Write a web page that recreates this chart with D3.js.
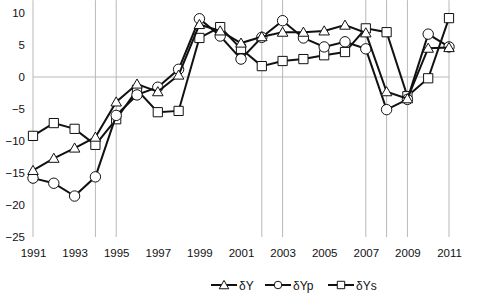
<!DOCTYPE html>
<meta charset="utf-8">
<head>
<script src="https://d3js.org/d3.v7.min.js"></script>
<style>
  body { margin: 0; background: #fff; }
  text { font-family: "Liberation Sans", Arial, sans-serif; }
</style>
</head>
<body>
<div id="chart"></div>
<script>

// data
var years = [1991,1992,1993,1994,1995,1996,1997,1998,1999,2000,2001,2002,2003,2004,2005,2006,2007,2008,2009,2010,2011];
var dY  = [-14.6,-12.7,-11.1,-9.4,-3.9,-1.1,-2.3,0.3,8.2,7.2,5.3,6.3,7.0,7.0,7.2,8.1,6.9,-2.3,-3.4,4.5,4.6];
var dYp = [-15.8,-16.6,-18.6,-15.6,-6.0,-2.8,-1.6,1.2,9.1,6.4,2.8,6.2,8.8,6.1,4.7,5.5,4.4,-5.1,-3.5,6.7,4.7];
var dYs = [-9.2,-7.2,-8.1,-10.6,-6.6,-2.0,-5.5,-5.3,6.1,7.8,4.4,1.7,2.5,2.8,3.4,3.9,7.6,7.0,-3.0,-0.2,9.2];
var xTicks = [1991,1993,1995,1997,1999,2001,2003,2005,2007,2009,2011];
var yTicks = [10,5,0,-5,-10,-15,-20,-25];
var vLines = [1991,1994,1995,2002,2003,2007,2008,2009,2011];
var seriesNames = ["δY","δYp","δYs"];

var width = 484, height = 307;

var svg = d3.select("#chart")
  .append("svg")
    .attr("width", width)
    .attr("height", height);

var x = d3.scaleLinear().domain([1991, 2011]).range([33, 449]);
var y = d3.scaleLinear().domain([-25, 10]).range([237, 13]);

// grid lines
svg.selectAll(".vline")
  .data(vLines)
  .enter().append("line")
    .attr("x1", function(d) { return x(d) })
    .attr("x2", function(d) { return x(d) })
    .attr("y1", y(12))
    .attr("y2", y(-25))
    .attr("stroke", "#b8b8b8")
    .attr("stroke-width", 1);

svg.append("line")
  .attr("x1", x(1991)).attr("x2", x(2011))
  .attr("y1", y(0)).attr("y2", y(0))
  .attr("stroke", "#b8b8b8")
  .attr("stroke-width", 1);

// Y axis labels
svg.append("g")
  .attr("transform", "translate(" + (x(1991) - 4) + ",0)")
  .call(d3.axisLeft(y).tickValues(yTicks).tickSize(0).tickPadding(4))
  .call(function(g) { g.select(".domain").remove() })
  .selectAll("text")
    .style("font-family", "Liberation Sans, Arial, sans-serif")
    .style("font-size", "11.5px")
    .attr("fill", "#111");

// X axis labels
svg.append("g")
  .attr("transform", "translate(0," + (y(-25) + 9) + ")")
  .call(d3.axisBottom(x).tickValues(xTicks).tickFormat(d3.format("d")).tickSize(0).tickPadding(3))
  .call(function(g) { g.select(".domain").remove() })
  .selectAll("text")
    .style("font-family", "Liberation Sans, Arial, sans-serif")
    .style("font-size", "11.5px")
    .attr("fill", "#111");

var line = d3.line()
  .x(function(d) { return x(d[0]) })
  .y(function(d) { return y(d[1]) });

var tri = d3.symbol().type(d3.symbolTriangle).size(48);
var sq = d3.symbol().type(d3.symbolSquare).size(85);
var circ = d3.symbol().type(d3.symbolCircle).size(85);
var shapes = [tri, circ, sq];
var allSeries = [dY, dYp, dYs];

// draw in order: squares, circles, triangles
[2, 1, 0].forEach(function(k) {
  var pts = years.map(function(yr, i) { return [yr, allSeries[k][i]] });
  svg.append("path")
    .datum(pts)
    .attr("fill", "none")
    .attr("stroke", "#111")
    .attr("stroke-width", 2)
    .attr("d", line);
  svg.selectAll(".m" + k)
    .data(pts)
    .enter().append("path")
      .attr("transform", function(d) { return "translate(" + x(d[0]) + "," + (y(d[1]) + (k == 0 ? 1 : 0)) + ")" })
      .attr("d", shapes[k])
      .attr("fill", "#fff")
      .attr("stroke", "#111")
      .attr("stroke-width", 1);
});

// legend
var legX = [211, 265, 328];
seriesNames.forEach(function(name, k) {
  var g = svg.append("g").attr("transform", "translate(" + legX[k] + ",285)");
  g.append("line").attr("x1", 0).attr("x2", 26).attr("y1", 0).attr("y2", 0)
    .attr("stroke", "#111").attr("stroke-width", 2);
  g.append("path").attr("transform", "translate(13," + (k == 0 ? 1 : 0) + ")")
    .attr("d", k == 0 ? d3.symbol().type(d3.symbolTriangle).size(40)() :
                k == 1 ? d3.symbol().type(d3.symbolCircle).size(45)() :
                         d3.symbol().type(d3.symbolSquare).size(55)())
    .attr("fill", "#fff").attr("stroke", "#111").attr("stroke-width", 1);
  g.append("text").attr("x", 28).attr("y", 4.5)
    .style("font-size", "12px").attr("fill", "#111")
    .text(name);
});

</script>
</body>
</html>
